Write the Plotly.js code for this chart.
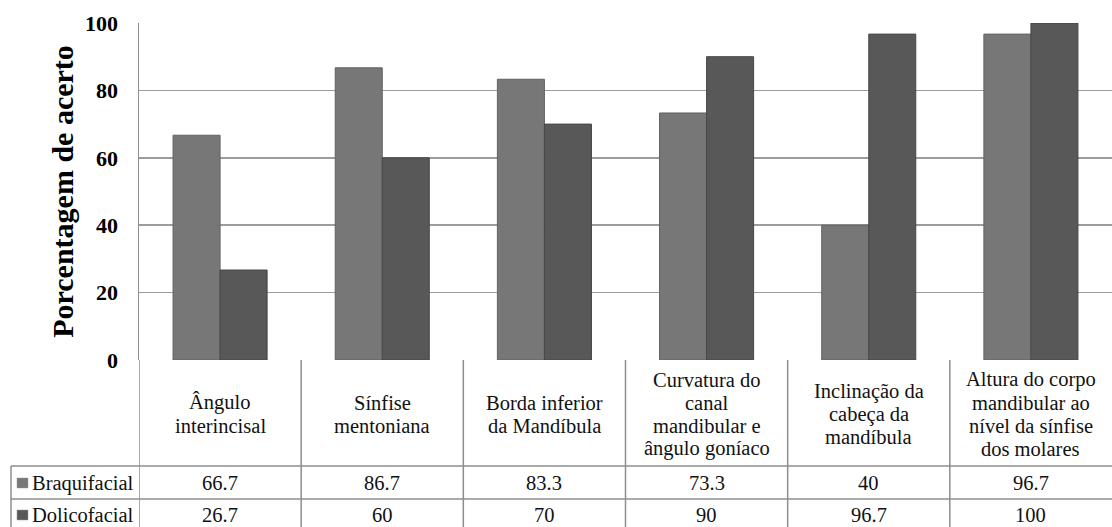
<!DOCTYPE html>
<html>
<head>
<meta charset="utf-8">
<script src="https://cdn.plot.ly/plotly-3.0.1.min.js"></script>
<style>html,body{margin:0;padding:0;background:#fff;}#chart{width:1112px;height:527px;}</style>
</head>
<body>
<div id="chart"></div>
<script>
// ---- data ----
const categories = [
  "Ângulo<br>interincisal",
  "Sínfise<br>mentoniana",
  "Borda inferior<br>da Mandíbula",
  "Curvatura do<br>canal<br>mandibular e<br>ângulo goníaco",
  "Inclinação da<br>cabeça da<br>mandíbula",
  "Altura do corpo<br>mandibular ao<br>nível da sínfise<br>dos molares"
];
const seriesNames = ["Braquifacial", "Dolicofacial"];
const braquifacial = [66.7, 86.7, 83.3, 73.3, 40, 96.7];
const dolicofacial = [26.7, 60, 70, 90, 96.7, 100];
const yTitle = "Porcentagem de acerto";
const yTicks = [0, 20, 40, 60, 80, 100];

// ---- styling / layout helpers ----
const W = 1112, H = 527;
const M = {l: 139, r: 0, t: 23, b: 167};
const plotH = H - M.t - M.b;   // 337
const plotW = W - M.l - M.r;   // 973
const py = p => (H - M.b - p) / plotH;   // pixel y -> paper y
const px = p => (p - M.l) / plotW;       // pixel x -> paper x
const colors = ["#777777", "#585858"];
const lineCol = "#8e8e8e";
const serif = "Liberation Serif";
const xIdx = categories.map((_, i) => i);

const traces = [braquifacial, dolicofacial].map((vals, k) => ({
  type: "bar",
  name: seriesNames[k],
  x: xIdx,
  y: vals,
  marker: {color: colors[k], line: {color: k === 0 ? "#626262" : "#474747", width: 1}},
  hoverinfo: "name+y"
}));

const shapes = [];
const annotations = [];
// table horizontal lines
const rowTop = 466, rowMid = 499, rowBot = 532;
[rowTop, rowMid].forEach(p => shapes.push({
  type: "line", xref: "paper", yref: "paper", x0: px(11), x1: 1, y0: py(p), y1: py(p),
  line: {color: lineCol, width: 1.5}
}));
// left border of legend column
shapes.push({type: "line", xref: "paper", yref: "paper", x0: px(11), x1: px(11),
  y0: py(rowTop), y1: py(rowBot), line: {color: lineCol, width: 1.5}});
// vertical lines at category boundaries
for (let i = 0; i < categories.length; i++) {
  shapes.push({type: "line", xref: "x", yref: "paper", x0: i - 0.5, x1: i - 0.5,
    y0: 0, y1: py(rowBot), line: {color: lineCol, width: 1.5}});
}
const txtFont = {family: serif, size: 20.5, color: "#111111"};
// header labels (one annotation per line to control spacing)
const headerCenter = 414, lineGap = 23;
categories.forEach((c, i) => {
  const lines = c.split("<br>");
  lines.forEach((ln, j) => {
    const cy = headerCenter + (j - (lines.length - 1) / 2) * lineGap;
    annotations.push({x: i, xref: "x", y: py(cy), yref: "paper", text: ln, showarrow: false,
      xanchor: "center", yanchor: "middle", font: txtFont});
  });
});
// data rows
const rowCenters = [483, 515];
[braquifacial, dolicofacial].forEach((vals, k) => {
  vals.forEach((v, i) => {
    annotations.push({x: i, xref: "x", y: py(rowCenters[k]), yref: "paper", text: String(v),
      showarrow: false, xanchor: "center", yanchor: "middle", font: txtFont});
  });
  // legend key
  shapes.push({type: "rect", xref: "paper", yref: "paper",
    x0: px(17), x1: px(28), y0: py(rowCenters[k] + 5), y1: py(rowCenters[k] - 5),
    fillcolor: colors[k], line: {color: "#9a9a9a", width: 0.5}});
  annotations.push({x: px(30), xref: "paper", y: py(rowCenters[k]), yref: "paper",
    text: seriesNames[k], showarrow: false, xanchor: "left", yanchor: "middle", font: txtFont});
});

const layout = {
  width: W, height: H,
  margin: M,
  font: {family: serif},
  paper_bgcolor: "#ffffff", plot_bgcolor: "#ffffff",
  showlegend: false,
  barmode: "group", bargap: 0.42, bargroupgap: 0,
  xaxis: {range: [-0.5, categories.length - 0.5], showticklabels: false, showgrid: false,
    zeroline: false, showline: false, ticks: "", fixedrange: true},
  yaxis: {range: [0, 100], tickvals: yTicks, ticktext: yTicks.map(String),
    showgrid: true, gridcolor: "#9c9c9c", gridwidth: 1.5,
    zeroline: false, showline: true, linecolor: lineCol, linewidth: 1.5,
    ticks: "", ticklabelstandoff: 15,
    tickfont: {family: serif, size: 22, color: "#000", weight: "bold"},
    title: {text: yTitle, standoff: 2, font: {family: serif, size: 30, color: "#000", weight: "bold"}},
    automargin: false, fixedrange: true},
  shapes: shapes,
  annotations: annotations
};

Plotly.newPlot("chart", traces, layout, {displayModeBar: false, staticPlot: true});
</script>
</body>
</html>
